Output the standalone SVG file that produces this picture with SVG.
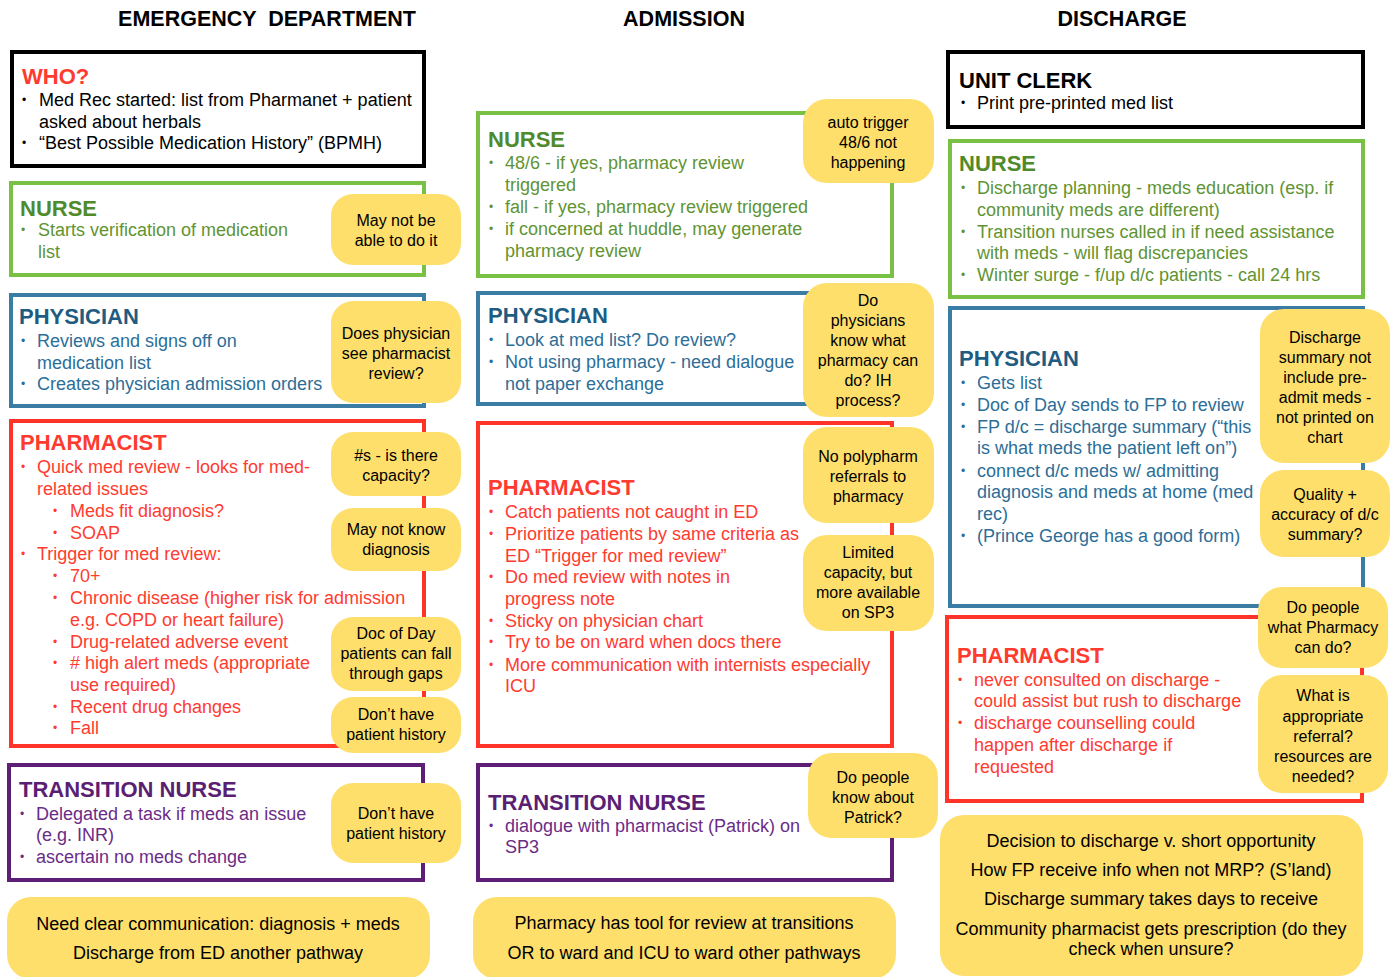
<svg xmlns="http://www.w3.org/2000/svg" width="1398" height="977" viewBox="0 0 1398 977">
<style>
text{font-family:"Liberation Sans",Arial,Helvetica,sans-serif;}
.hdr{font-size:21.5px;font-weight:bold;fill:#000;text-anchor:middle;}
.box{fill:#fff;stroke-width:4;}
.bk{stroke:#000;}
.gr{stroke:#78c144;}
.bl{stroke:#3b7ca5;}
.rd{stroke:#ff3328;}
.pu{stroke:#5d1e76;}
.note{fill:#fedf6b;}
.t{font-size:22px;font-weight:bold;}
.b{font-size:18px;}
.bu{font-size:12px;}
.n{font-size:16px;fill:#000;text-anchor:middle;}
.m{font-size:18px;fill:#000;text-anchor:middle;}
.cbk{fill:#000;}
.cgrh{fill:#4f8a2b;}
.cgr{fill:#5f9432;}
.cblh{fill:#1f5c82;}
.cbl{fill:#2c6e98;}
.crd{fill:#ff3b30;}
.cpuh{fill:#5a1e73;}
.cpu{fill:#6b2c88;}
</style>

<!-- Column headers -->
<g id="headers">
<text class="hdr" x="267" y="26" xml:space="preserve">EMERGENCY  DEPARTMENT</text>
<text class="hdr" x="684" y="26">ADMISSION</text>
<text class="hdr" x="1122" y="26">DISCHARGE</text>
</g>

<!-- ================= EMERGENCY DEPARTMENT ================= -->
<g id="ed-who">
<rect class="box bk" x="12" y="52" width="412" height="114"/>
<text class="t crd" x="22" y="84">WHO?</text>
<text class="bu cbk" x="22" y="104">•</text>
<text class="b cbk" x="39" y="106">Med Rec started: list from Pharmanet + patient</text>
<text class="b cbk" x="39" y="128">asked about herbals</text>
<text class="bu cbk" x="22" y="147">•</text>
<text class="b cbk" x="39" y="149">“Best Possible Medication History” (BPMH)</text>
</g>

<g id="ed-nurse">
<rect class="box gr" x="11" y="183" width="413" height="92"/>
<text class="t cgrh" x="20" y="216">NURSE</text>
<text class="bu cgr" x="21" y="234">•</text>
<text class="b cgr" x="38" y="236">Starts verification of medication</text>
<text class="b cgr" x="38" y="258">list</text>
</g>

<g id="ed-physician">
<rect class="box bl" x="11" y="295" width="413" height="111"/>
<text class="t cblh" x="19" y="324">PHYSICIAN</text>
<text class="bu cbl" x="21" y="345">•</text>
<text class="b cbl" x="37" y="347">Reviews and signs off on</text>
<text class="b cbl" x="37" y="369">medication list</text>
<text class="bu cbl" x="21" y="388">•</text>
<text class="b cbl" x="37" y="390">Creates physician admission orders</text>
</g>

<g id="ed-pharmacist">
<rect class="box rd" x="11" y="421" width="413" height="325"/>
<text class="t crd" x="20" y="450">PHARMACIST</text>
<text class="bu crd" x="21" y="471">•</text>
<text class="b crd" x="37" y="473">Quick med review - looks for med-</text>
<text class="b crd" x="37" y="495">related issues</text>
<text class="bu crd" x="53" y="515">•</text>
<text class="b crd" x="70" y="517">Meds fit diagnosis?</text>
<text class="bu crd" x="53" y="537">•</text>
<text class="b crd" x="70" y="539">SOAP</text>
<text class="bu crd" x="21" y="558">•</text>
<text class="b crd" x="37" y="560">Trigger for med review:</text>
<text class="bu crd" x="53" y="580">•</text>
<text class="b crd" x="70" y="582">70+</text>
<text class="bu crd" x="53" y="602">•</text>
<text class="b crd" x="70" y="604">Chronic disease (higher risk for admission</text>
<text class="b crd" x="70" y="626">e.g. COPD or heart failure)</text>
<text class="bu crd" x="53" y="646">•</text>
<text class="b crd" x="70" y="648">Drug-related adverse event</text>
<text class="bu crd" x="53" y="667">•</text>
<text class="b crd" x="70" y="669"># high alert meds (appropriate</text>
<text class="b crd" x="70" y="691">use required)</text>
<text class="bu crd" x="53" y="711">•</text>
<text class="b crd" x="70" y="713">Recent drug changes</text>
<text class="bu crd" x="53" y="732">•</text>
<text class="b crd" x="70" y="734">Fall</text>
</g>

<g id="ed-transition">
<rect class="box pu" x="9" y="765" width="414" height="115"/>
<text class="t cpuh" x="19" y="797">TRANSITION NURSE</text>
<text class="bu cpu" x="20" y="818">•</text>
<text class="b cpu" x="36" y="820">Delegated a task if meds an issue</text>
<text class="b cpu" x="36" y="841">(e.g. INR)</text>
<text class="bu cpu" x="20" y="861">•</text>
<text class="b cpu" x="36" y="863">ascertain no meds change</text>
</g>

<g id="ed-note-1">
<rect class="note" x="331" y="194" width="130" height="71" rx="22"/>
<text class="n" x="396" y="226">May not be</text>
<text class="n" x="396" y="246">able to do it</text>
</g>
<g id="ed-note-2">
<rect class="note" x="331" y="301" width="130" height="102" rx="22"/>
<text class="n" x="396" y="339">Does physician</text>
<text class="n" x="396" y="359">see pharmacist</text>
<text class="n" x="396" y="379">review?</text>
</g>
<g id="ed-note-3">
<rect class="note" x="331" y="432" width="130" height="64" rx="22"/>
<text class="n" x="396" y="461">#s - is there</text>
<text class="n" x="396" y="481">capacity?</text>
</g>
<g id="ed-note-4">
<rect class="note" x="331" y="508" width="130" height="63" rx="22"/>
<text class="n" x="396" y="535">May not know</text>
<text class="n" x="396" y="555">diagnosis</text>
</g>
<g id="ed-note-5">
<rect class="note" x="331" y="617" width="130" height="74" rx="22"/>
<text class="n" x="396" y="639">Doc of Day</text>
<text class="n" x="396" y="659">patients can fall</text>
<text class="n" x="396" y="679">through gaps</text>
</g>
<g id="ed-note-6">
<rect class="note" x="331" y="697" width="130" height="56" rx="22"/>
<text class="n" x="396" y="720">Don’t have</text>
<text class="n" x="396" y="740">patient history</text>
</g>
<g id="ed-note-7">
<rect class="note" x="331" y="783" width="130" height="80" rx="22"/>
<text class="n" x="396" y="819">Don’t have</text>
<text class="n" x="396" y="839">patient history</text>
</g>
<g id="ed-summary">
<rect class="note" x="7" y="897" width="423" height="82" rx="24"/>
<text class="m" x="218" y="930">Need clear communication: diagnosis + meds</text>
<text class="m" x="218" y="959">Discharge from ED another pathway</text>
</g>

<!-- ================= ADMISSION ================= -->
<g id="adm-nurse">
<rect class="box gr" x="478" y="113" width="414" height="163"/>
<text class="t cgrh" x="488" y="147">NURSE</text>
<text class="bu cgr" x="489" y="167">•</text>
<text class="b cgr" x="505" y="169">48/6 - if yes, pharmacy review</text>
<text class="b cgr" x="505" y="191">triggered</text>
<text class="bu cgr" x="489" y="211">•</text>
<text class="b cgr" x="505" y="213">fall - if yes, pharmacy review triggered</text>
<text class="bu cgr" x="489" y="233">•</text>
<text class="b cgr" x="505" y="235">if concerned at huddle, may generate</text>
<text class="b cgr" x="505" y="257">pharmacy review</text>
</g>

<g id="adm-physician">
<rect class="box bl" x="478" y="293" width="414" height="111"/>
<text class="t cblh" x="488" y="323">PHYSICIAN</text>
<text class="bu cbl" x="489" y="344">•</text>
<text class="b cbl" x="505" y="346">Look at med list? Do review?</text>
<text class="bu cbl" x="489" y="366">•</text>
<text class="b cbl" x="505" y="368">Not using pharmacy - need dialogue</text>
<text class="b cbl" x="505" y="390">not paper exchange</text>
</g>

<g id="adm-pharmacist">
<rect class="box rd" x="478" y="423" width="414" height="323"/>
<text class="t crd" x="488" y="495">PHARMACIST</text>
<text class="bu crd" x="489" y="516">•</text>
<text class="b crd" x="505" y="518">Catch patients not caught in ED</text>
<text class="bu crd" x="489" y="538">•</text>
<text class="b crd" x="505" y="540">Prioritize patients by same criteria as</text>
<text class="b crd" x="505" y="562">ED “Trigger for med review”</text>
<text class="bu crd" x="489" y="581">•</text>
<text class="b crd" x="505" y="583">Do med review with notes in</text>
<text class="b crd" x="505" y="605">progress note</text>
<text class="bu crd" x="489" y="625">•</text>
<text class="b crd" x="505" y="627">Sticky on physician chart</text>
<text class="bu crd" x="489" y="646">•</text>
<text class="b crd" x="505" y="648">Try to be on ward when docs there</text>
<text class="bu crd" x="489" y="669">•</text>
<text class="b crd" x="505" y="671">More communication with internists especially</text>
<text class="b crd" x="505" y="692">ICU</text>
</g>

<g id="adm-transition">
<rect class="box pu" x="478" y="765" width="414" height="115"/>
<text class="t cpuh" x="488" y="810">TRANSITION NURSE</text>
<text class="bu cpu" x="489" y="830">•</text>
<text class="b cpu" x="505" y="832">dialogue with pharmacist (Patrick) on</text>
<text class="b cpu" x="505" y="853">SP3</text>
</g>

<g id="adm-note-1">
<rect class="note" x="803" y="99" width="131" height="84" rx="24"/>
<text class="n" x="868" y="128">auto trigger</text>
<text class="n" x="868" y="148">48/6 not</text>
<text class="n" x="868" y="168">happening</text>
</g>
<g id="adm-note-2">
<rect class="note" x="803" y="283" width="131" height="134" rx="24"/>
<text class="n" x="868" y="306">Do</text>
<text class="n" x="868" y="326">physicians</text>
<text class="n" x="868" y="346">know what</text>
<text class="n" x="868" y="366">pharmacy can</text>
<text class="n" x="868" y="386">do? IH</text>
<text class="n" x="868" y="406">process?</text>
</g>
<g id="adm-note-3">
<rect class="note" x="803" y="427" width="131" height="96" rx="24"/>
<text class="n" x="868" y="462">No polypharm</text>
<text class="n" x="868" y="482">referrals to</text>
<text class="n" x="868" y="502">pharmacy</text>
</g>
<g id="adm-note-4">
<rect class="note" x="803" y="535" width="131" height="96" rx="24"/>
<text class="n" x="868" y="558">Limited</text>
<text class="n" x="868" y="578">capacity, but</text>
<text class="n" x="868" y="598">more available</text>
<text class="n" x="868" y="618">on SP3</text>
</g>
<g id="adm-note-5">
<rect class="note" x="808" y="753" width="130" height="85" rx="24"/>
<text class="n" x="873" y="783">Do people</text>
<text class="n" x="873" y="803">know about</text>
<text class="n" x="873" y="823">Patrick?</text>
</g>
<g id="adm-summary">
<rect class="note" x="473" y="897" width="423" height="82" rx="24"/>
<text class="m" x="684" y="929">Pharmacy has tool for review at transitions</text>
<text class="m" x="684" y="959">OR to ward and ICU to ward other pathways</text>
</g>

<!-- ================= DISCHARGE ================= -->
<g id="dc-clerk">
<rect class="box bk" x="948" y="52" width="415" height="75"/>
<text class="t cbk" x="959" y="88">UNIT CLERK</text>
<text class="bu cbk" x="961" y="107">•</text>
<text class="b cbk" x="977" y="109">Print pre-printed med list</text>
</g>

<g id="dc-nurse">
<rect class="box gr" x="950" y="141" width="413" height="156"/>
<text class="t cgrh" x="959" y="171">NURSE</text>
<text class="bu cgr" x="961" y="192">•</text>
<text class="b cgr" x="977" y="194">Discharge planning - meds education (esp. if</text>
<text class="b cgr" x="977" y="216">community meds are different)</text>
<text class="bu cgr" x="961" y="236">•</text>
<text class="b cgr" x="977" y="238">Transition nurses called in if need assistance</text>
<text class="b cgr" x="977" y="259">with meds - will flag discrepancies</text>
<text class="bu cgr" x="961" y="279">•</text>
<text class="b cgr" x="977" y="281">Winter surge - f/up d/c patients - call 24 hrs</text>
</g>

<g id="dc-physician">
<rect class="box bl" x="950" y="308" width="413" height="298"/>
<text class="t cblh" x="959" y="366">PHYSICIAN</text>
<text class="bu cbl" x="961" y="387">•</text>
<text class="b cbl" x="977" y="389">Gets list</text>
<text class="bu cbl" x="961" y="409">•</text>
<text class="b cbl" x="977" y="411">Doc of Day sends to FP to review</text>
<text class="bu cbl" x="961" y="431">•</text>
<text class="b cbl" x="977" y="433">FP d/c = discharge summary (“this</text>
<text class="b cbl" x="977" y="454">is what meds the patient left on”)</text>
<text class="bu cbl" x="961" y="475">•</text>
<text class="b cbl" x="977" y="477">connect d/c meds w/ admitting</text>
<text class="b cbl" x="977" y="498">diagnosis and meds at home (med</text>
<text class="b cbl" x="977" y="520">rec)</text>
<text class="bu cbl" x="961" y="540">•</text>
<text class="b cbl" x="977" y="542">(Prince George has a good form)</text>
</g>

<g id="dc-pharmacist">
<rect class="box rd" x="947" y="617" width="415" height="184"/>
<text class="t crd" x="957" y="663">PHARMACIST</text>
<text class="bu crd" x="958" y="684">•</text>
<text class="b crd" x="974" y="686">never consulted on discharge -</text>
<text class="b crd" x="974" y="707">could assist but rush to discharge</text>
<text class="bu crd" x="958" y="727">•</text>
<text class="b crd" x="974" y="729">discharge counselling could</text>
<text class="b crd" x="974" y="751">happen after discharge if</text>
<text class="b crd" x="974" y="773">requested</text>
</g>

<g id="dc-note-1">
<rect class="note" x="1260" y="309" width="130" height="154" rx="24"/>
<text class="n" x="1325" y="343">Discharge</text>
<text class="n" x="1325" y="363">summary not</text>
<text class="n" x="1325" y="383">include pre-</text>
<text class="n" x="1325" y="403">admit meds -</text>
<text class="n" x="1325" y="423">not printed on</text>
<text class="n" x="1325" y="443">chart</text>
</g>
<g id="dc-note-2">
<rect class="note" x="1260" y="470" width="130" height="87" rx="24"/>
<text class="n" x="1325" y="500">Quality +</text>
<text class="n" x="1325" y="520">accuracy of d/c</text>
<text class="n" x="1325" y="540">summary?</text>
</g>
<g id="dc-note-3">
<rect class="note" x="1258" y="587" width="130" height="81" rx="24"/>
<text class="n" x="1323" y="613">Do people</text>
<text class="n" x="1323" y="633">what Pharmacy</text>
<text class="n" x="1323" y="653">can do?</text>
</g>
<g id="dc-note-4">
<rect class="note" x="1258" y="675" width="130" height="118" rx="24"/>
<text class="n" x="1323" y="701">What is</text>
<text class="n" x="1323" y="722">appropriate</text>
<text class="n" x="1323" y="742">referral?</text>
<text class="n" x="1323" y="762">resources are</text>
<text class="n" x="1323" y="782">needed?</text>
</g>
<g id="dc-summary">
<rect class="note" x="940" y="815" width="423" height="161" rx="24"/>
<text class="m" x="1151" y="847">Decision to discharge v. short opportunity</text>
<text class="m" x="1151" y="876">How FP receive info when not MRP? (S’land)</text>
<text class="m" x="1151" y="905">Discharge summary takes days to receive</text>
<text class="m" x="1151" y="935">Community pharmacist gets prescription (do they</text>
<text class="m" x="1151" y="955">check when unsure?</text>
</g>

<g id="connectors"></g>
</svg>
